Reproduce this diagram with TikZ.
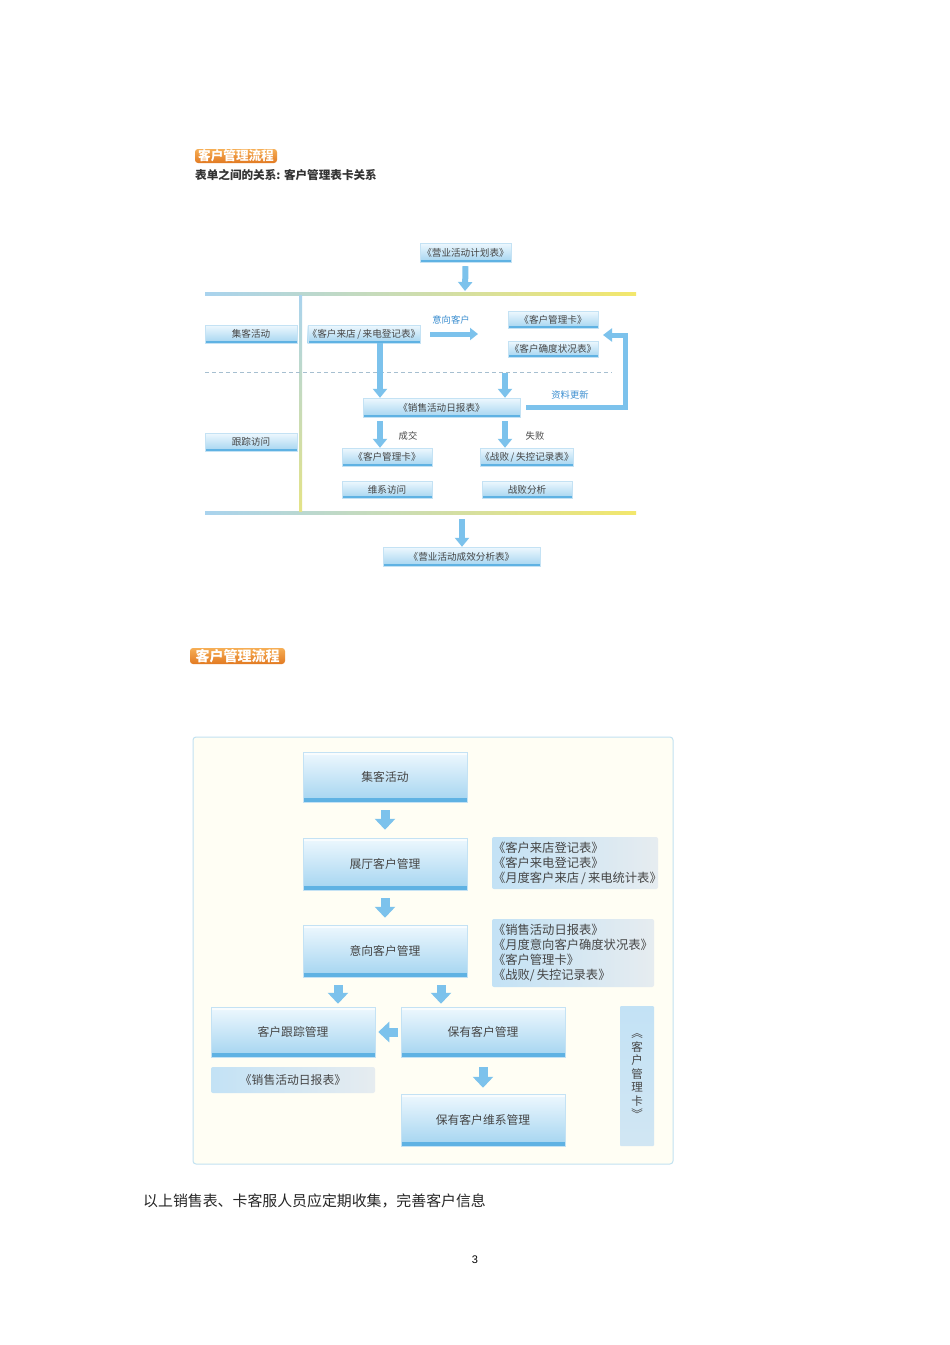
\documentclass[tikz,border=0pt]{standalone}
\usepackage{fontspec}
\setmainfont{Noto Sans CJK SC}
\newfontfamily\latinfont{Liberation Sans}
\usetikzlibrary{arrows.meta,calc}
\definecolor{boxtop}{HTML}{EEF8FE}
\definecolor{boxbot}{HTML}{A3D4F0}
\definecolor{boxedge}{HTML}{C4E2F4}
\definecolor{boxline}{HTML}{5FB2E3}
\definecolor{arrowc}{HTML}{7CC2EC}
\definecolor{txt}{HTML}{454545}
\definecolor{bluetxt}{HTML}{3B8ED0}
\definecolor{orangeA}{HTML}{F6AE55}
\definecolor{orangeB}{HTML}{E27A22}
\definecolor{lineblue}{HTML}{A9D3EE}
\definecolor{lineyellow}{HTML}{F3E76C}
\definecolor{dashc}{HTML}{A6BFD0}
\definecolor{frame}{HTML}{C2E2F1}
\definecolor{cream}{HTML}{FFFEF4}
\definecolor{infoL}{HTML}{C3E2F5}
\definecolor{infoR}{HTML}{E6ECF0}
\begin{document}
\begin{tikzpicture}[x=1pt,y=-1pt,
  tbox/.style={top color=boxtop, bottom color=boxbot, draw=boxedge, line width=0.4pt,
    inner sep=0pt, text=txt, font=\fontsize{9.6}{11}\selectfont,
    path picture={\fill[boxline] ([yshift=2.2pt]path picture bounding box.south west) rectangle (path picture bounding box.south east);}},
  bbox/.style={top color=boxtop, bottom color=boxbot, draw=boxedge, line width=0.5pt,
    inner sep=0pt, text=txt, font=\fontsize{11.8}{13}\selectfont, minimum width=164pt,
    path picture={\fill[boxline] ([yshift=4pt]path picture bounding box.south west) rectangle (path picture bounding box.south east);
                  \fill[white!60!boxtop] (path picture bounding box.north west) rectangle ([yshift=-3pt]path picture bounding box.north east);}},
  ibox/.style={left color=infoL, right color=infoR, draw=none, rounded corners=2pt,
    inner sep=0pt, text=txt, font=\fontsize{12.3}{15}\selectfont},
  tag/.style={top color=orangeA, bottom color=orangeB, rounded corners=3pt, draw=none,
    inner sep=0pt, text=white, font=\bfseries},
  barrow/.style={line width=6pt, draw=arrowc, -{Triangle[width=14pt,length=9pt]}},
  sarrow/.style={line width=5pt, draw=arrowc, -{Triangle[width=12pt,length=8pt]}},
  farrow/.style={line width=9pt, draw=arrowc, -{Triangle[width=20pt,length=11pt]}},
  lbl/.style={inner sep=0pt, font=\fontsize{9.3}{10}\selectfont}
]
\useasboundingbox[fill=white] (0,0) rectangle (950,1345);

% ---------- top section ----------
\node[tag, minimum width=82pt, minimum height=14pt, font=\bfseries\fontsize{12.6}{13}\selectfont] (tag1) at (236,156) {客户管理流程};
\node[anchor=west, inner sep=0pt, text=black!80, font=\bfseries\fontsize{11.6}{13}\selectfont] (sub) at (195,175) {表单之间的关系: 客户管理表卡关系};

% lines
\shade[left color=lineblue, right color=lineyellow, middle color=lineblue!50!lineyellow] (205,292.5) rectangle (636,295.5);
\shade[left color=lineblue, right color=lineyellow, middle color=lineblue!50!lineyellow] (205,511.5) rectangle (636,514.5);
\shade[top color=lineblue, bottom color=lineyellow!80!lineblue] (299,295.5) rectangle (302,511.5);
\draw[dashc, line width=0.7pt, dash pattern=on 4pt off 3pt] (205,372) -- (612,372);

\node[tbox, minimum width=91pt, minimum height=19pt] (plan) at (465.5,252.5) {《营业活动计划表》};
\node[tbox, minimum width=92pt, minimum height=18pt] (jk) at (251,334) {集客活动};
\node[tbox, minimum width=108pt, minimum height=18pt] (reg) at (364,334) {《客户来店\,/\,来电登记表》};
\node[tbox, minimum width=90pt, minimum height=17pt] (card1) at (553,319.5) {《客户管理卡》};
\node[tbox, minimum width=90pt, minimum height=16pt] (stat) at (553,349) {《客户确度状况表》};
\node[tbox, minimum width=157pt, minimum height=19pt] (daily) at (441.5,407.5) {《销售活动日报表》};
\node[tbox, minimum width=92pt, minimum height=18pt] (gz) at (251,442) {跟踪访问};
\node[tbox, minimum width=90pt, minimum height=18pt] (card2) at (387,457) {《客户管理卡》};
\node[tbox, minimum width=90pt, minimum height=18pt] (lose) at (527,457) {《战败\,/\,失控记录表》};
\node[tbox, minimum width=90pt, minimum height=17pt] (wx) at (387,489.5) {维系访问};
\node[tbox, minimum width=90pt, minimum height=17pt] (zb) at (527,489.5) {战败分析};
\node[tbox, minimum width=157pt, minimum height=19pt] (eff) at (461.5,556.5) {《营业活动成效分析表》};

\node[lbl, text=bluetxt] (l1) at (451,320) {意向客户};
\node[lbl, text=bluetxt] (l2) at (570,395) {资料更新};
\node[lbl, text=txt] (l3) at (408,436) {成交};
\node[lbl, text=txt] (l4) at (535,436) {失败};

\coordinate (a1e) at (465,291);
\coordinate (a2s) at (430,334);
\coordinate (a2e) at (478,334);
\coordinate (a4s) at (505,373);
\coordinate (l1c) at (462,519);
\coordinate (u1) at (625,407.5);
\coordinate (u2) at (625,335);
\coordinate (u3) at (603,335);

\draw[barrow] ($(plan.south)+(0,4)$) -- (a1e);
\draw[sarrow] (a2s) -- (a2e);
\draw[barrow] (reg.south -| 380,0) -- (daily.north -| 380,0);
\draw[barrow] (a4s) -- (daily.north -| 505,0);
\draw[barrow] ($(daily.south -| 380,0)+(0,4)$) -- (card2.north -| 380,0);
\draw[barrow] ($(daily.south -| 505,0)+(0,4)$) -- (lose.north -| 505,0);
\draw[barrow] (l1c) -- (eff.north -| 462,0);
\draw[line width=5pt, draw=arrowc, -{Triangle[width=13pt,length=9pt]}]
  ($(daily.east)+(6,0)$) -- (u1) -- (u2) -- (u3);

% ---------- bottom section ----------
\node[tag, minimum width=95pt, minimum height=16pt, font=\bfseries\fontsize{14}{15}\selectfont] (tag2) at (237.5,656) {客户管理流程};

\draw[frame, fill=cream, line width=1pt, rounded corners=3pt] (193,737) rectangle (673,1164);

\node[bbox, minimum height=50pt] (b1) at (385,777) {集客活动};
\node[bbox, minimum height=52pt] (b2) at (385,864) {展厅客户管理};
\node[bbox, minimum height=52pt] (b3) at (385,951) {意向客户管理};
\node[bbox, minimum height=50pt] (b4) at (293,1032) {客户跟踪管理};
\node[bbox, minimum height=50pt] (b5) at (483,1032) {保有客户管理};
\node[bbox, minimum height=52pt] (b7) at (483,1120) {保有客户维系管理};
\node[ibox, minimum width=164pt, minimum height=26pt, font=\fontsize{11.8}{13}\selectfont] (b6) at (293,1080) {《销售活动日报表》};

\node[ibox, minimum width=166pt, minimum height=52pt, align=left, text width=164pt] (i1) at (575,863)
  {《客户来店登记表》\\《客户来电登记表》\\《月度客户来店\,/\,来电统计表》};
\node[ibox, minimum width=162pt, minimum height=68pt, align=left, text width=160pt] (i2) at (573,953)
  {《销售活动日报表》\\《月度意向客户确度状况表》\\《客户管理卡》\\《战败/\,失控记录表》};
\node[ibox, rounded corners=1pt, top color=infoL, bottom color=infoL!60!infoR, minimum width=34pt, minimum height=140pt, align=center, font=\fontsize{11.5}{13.5}\selectfont] (vc) at (637,1076)
  {︽\\客\\户\\管\\理\\卡\\︾};

\draw[farrow] ($(b1.south)+(0,8)$) -- ($(b2.north)+(0,-8)$);
\draw[farrow] ($(b2.south)+(0,8)$) -- ($(b3.north)+(0,-7)$);
\draw[farrow] ($(b3.south -| 338,0)+(0,8)$) -- ($(b4.north -| 338,0)+(0,-3)$);
\draw[farrow] ($(b3.south -| 441,0)+(0,8)$) -- ($(b5.north -| 441,0)+(0,-3)$);
\draw[farrow] ($(b5.west)+(-3,0)$) -- ($(b4.east)+(3,0)$);
\draw[farrow] ($(b5.south)+(0,10)$) -- ($(b7.north)+(0,-6)$);

% ---------- footer ----------
\node[anchor=west, inner sep=0pt, text=black!85, font=\fontsize{14.9}{16}\selectfont] (note) at (143,1201) {以上销售表、卡客服人员应定期收集，完善客户信息};
\node[inner sep=0pt, font=\latinfont\fontsize{11}{12}\selectfont] (pg) at (475,1260) {3};
\end{tikzpicture}
\end{document}
